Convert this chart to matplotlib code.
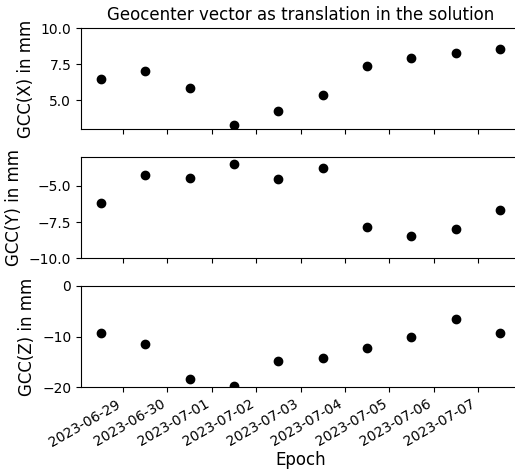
import matplotlib
matplotlib.use("Agg")
import matplotlib.pyplot as plt
import matplotlib.dates as mdates
import numpy as np

# Daily solutions, epoch at noon
epochs = np.array([
    "2023-06-28T12:00", "2023-06-29T12:00", "2023-06-30T12:00", "2023-07-01T12:00",
    "2023-07-02T12:00", "2023-07-03T12:00", "2023-07-04T12:00", "2023-07-05T12:00",
    "2023-07-06T12:00", "2023-07-07T12:00",
], dtype="datetime64[m]")

gcc_x = [6.48, 7.04, 5.83, 3.26, 4.22, 5.35, 7.38, 7.90, 8.26, 8.57]
gcc_y = [-6.20, -4.24, -4.42, -3.47, -4.51, -3.77, -7.85, -8.45, -7.96, -6.69]
gcc_z = [-9.25, -11.48, -18.37, -19.75, -14.89, -14.17, -12.27, -10.17, -6.56, -9.38]

fig = plt.figure(figsize=(5.15, 4.71), dpi=100)

left, width = 0.1573, 0.8524
ax1 = fig.add_axes([left, 0.7261, width, 0.2144])
ax2 = fig.add_axes([left, 0.4516, width, 0.2151], sharex=ax1)
ax3 = fig.add_axes([left, 0.1777, width, 0.2157], sharex=ax1)

for ax, vals, lab, lim in [
    (ax1, gcc_x, "GCC(X) in mm", (3.0, 10.0)),
    (ax2, gcc_y, "GCC(Y) in mm", (-10.0, -3.0)),
    (ax3, gcc_z, "GCC(Z) in mm", (-20.0, 0.0)),
]:
    ax.plot(epochs, vals, "o", color="black")
    ax.set_ylabel(lab, fontsize=12)
    ax.set_ylim(*lim)

ax1.set_title("Geocenter vector as translation in the solution", fontsize=12)

ax3.xaxis.set_major_locator(mdates.DayLocator())
ax3.xaxis.set_major_formatter(mdates.DateFormatter("%Y-%m-%d"))
ax1.tick_params(labelbottom=False)
ax2.tick_params(labelbottom=False)
for t in ax3.get_xticklabels():
    t.set_rotation(30)
    t.set_ha("right")
ax3.set_xlabel("Epoch", fontsize=12, labelpad=1)

fig.savefig("out.png", dpi=100)
